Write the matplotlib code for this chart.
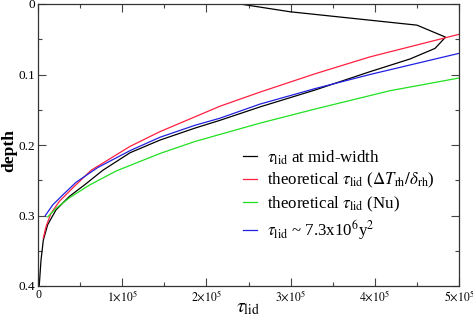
import numpy as np
import matplotlib.pyplot as plt
from matplotlib.ticker import MultipleLocator, FuncFormatter

# Values (tau_lid, depth)
black_tau = [1500, 3600, 6300, 11500, 21400, 37200, 57000, 76800, 109300, 144900,
             186500, 216100, 263600, 329000, 394300, 441800, 471500, 484000, 450100,
             299300, 239900]
black_depth = [0.399, 0.363, 0.335, 0.313, 0.292, 0.273, 0.255, 0.236, 0.211, 0.193,
               0.176, 0.165, 0.146, 0.122, 0.096, 0.078, 0.063, 0.047, 0.030,
               0.011, 0.0]

red_tau = [6300, 9500, 15400, 25300, 41200, 62900, 109300, 144900, 186500, 216100,
           263600, 329000, 394300, 500000]
red_depth = [0.332, 0.316, 0.297, 0.280, 0.261, 0.236, 0.202, 0.181, 0.160, 0.145,
             0.125, 0.099, 0.075, 0.043]

green_tau = [11500, 21400, 37200, 60900, 92600, 109300, 144900, 186500, 216100,
             263600, 329000, 418000, 500000]
green_depth = [0.302, 0.290, 0.275, 0.257, 0.237, 0.229, 0.212, 0.195, 0.185,
               0.169, 0.149, 0.123, 0.105]

blue_tau = [8700, 17500, 29300, 45100, 70900, 109300, 144900, 186500, 216100,
            263600, 329000, 394300, 500000]
blue_depth = [0.300, 0.285, 0.271, 0.253, 0.232, 0.208, 0.189, 0.172, 0.162,
              0.142, 0.120, 0.100, 0.070]

labels = [r"$\tau_{\rm lid}$ at mid-width",
          r"theoretical $\tau_{\rm lid}$ ($\Delta T_{\rm rh}/\delta_{\rm rh}$)",
          r"theoretical $\tau_{\rm lid}$ (Nu)",
          r"$\tau_{\rm lid}$ ~ 7.3x10$^6$y$^2$"]

plt.rcParams['font.family'] = ["Liberation Serif", "DejaVu Serif"]
plt.rcParams['mathtext.fontset'] = "stix"

fig = plt.figure(figsize=(4.73, 3.23), dpi=100)
ax = fig.add_axes([38 / 473, 1 - 286 / 323, 421 / 473, 282 / 323])

lw = 0.9
ax.plot(black_tau, black_depth, color="#000000", lw=lw, label=labels[0])
ax.plot(red_tau, red_depth, color="#ff2040", lw=lw, label=labels[1])
ax.plot(green_tau, green_depth, color="#20e020", lw=lw, label=labels[2])
ax.plot(blue_tau, blue_depth, color="#2020e0", lw=lw, label=labels[3])

ax.set_xlim(0, 5e5)
ax.set_ylim(0.4, 0)
ax.xaxis.set_major_locator(MultipleLocator(1e5))
ax.xaxis.set_minor_locator(MultipleLocator(0.5e5))
ax.yaxis.set_major_locator(MultipleLocator(0.1))
ax.yaxis.set_minor_locator(MultipleLocator(0.05))


def xfmt(v, pos):
    n = int(round(v / 1e5))
    if n == 0:
        return "0"
    return r"$%d{\times}10^{5}$" % n


def yfmt(v, pos):
    if abs(v) < 1e-9:
        return "0"
    return "%.1f" % v


ax.xaxis.set_major_formatter(FuncFormatter(xfmt))
ax.yaxis.set_major_formatter(FuncFormatter(yfmt))
ax.tick_params(which="both", direction="in", top=True, right=True, width=0.8, color="#444")
ax.tick_params(which="major", length=6, pad=3)
ax.tick_params(which="minor", length=3)
ax.tick_params(axis="y", labelsize=9.5, pad=2)
ax.tick_params(axis="x", labelsize=8.5, pad=2)
for s in ax.spines.values():
    s.set_linewidth(0.9)
    s.set_color("#333")

ax.set_ylabel("depth", fontsize=12.5, fontweight="bold")
ax.yaxis.set_label_coords(-0.05, 0.48)
ax.set_xlabel(r"$\tau_{\rm lid}$", fontsize=14)
ax.xaxis.set_label_coords(0.5, -0.05)

ax.legend(loc="upper left", bbox_to_anchor=(0.487, 0.488), frameon=False, fontsize=12.2,
          handlelength=0.8, handletextpad=0.6, labelspacing=0.25, borderaxespad=0,
          borderpad=0)

fig.savefig("out.png", dpi=100)
